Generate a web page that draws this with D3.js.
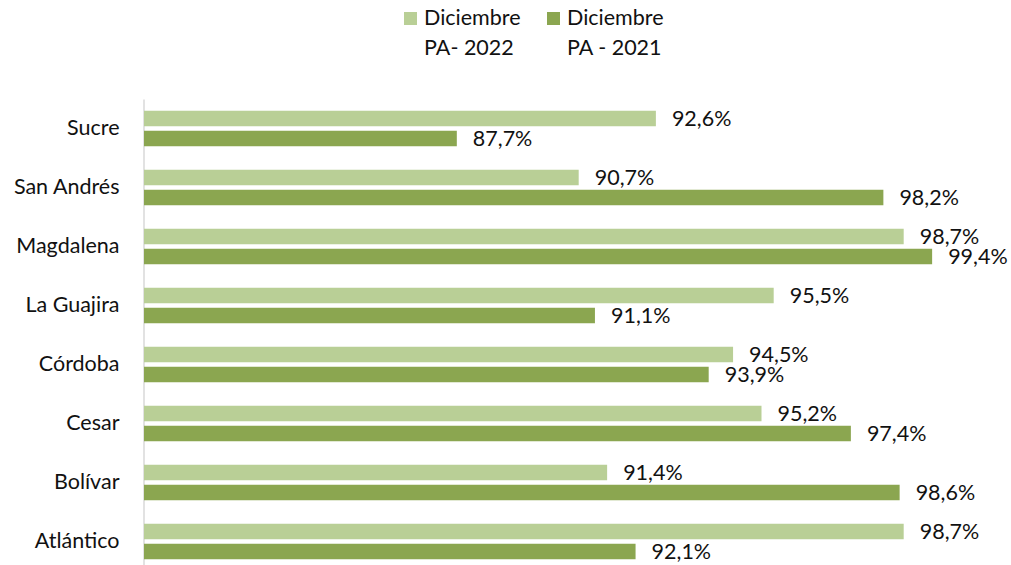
<!DOCTYPE html>
<html>
<head>
<meta charset="utf-8">
<script src="https://cdn.jsdelivr.net/npm/d3@7"></script>
<style>
  body { margin: 0; background: #fff; }
  text { font-family: Lato, "Open Sans", sans-serif; fill: #111; }
</style>
</head>
<body>
<div id="chart"></div>
<script>
const categories = ["Sucre", "San Andrés", "Magdalena", "La Guajira", "Córdoba", "Cesar", "Bolívar", "Atlántico"];
const pa2022 = [92.6, 90.7, 98.7, 95.5, 94.5, 95.2, 91.4, 98.7];
const pa2021 = [87.7, 98.2, 99.4, 91.1, 93.9, 97.4, 98.6, 92.1];
const seriesNames = [["Diciembre", "PA- 2022"], ["Diciembre", "PA - 2021"]];
const colors = ["#b9cf96", "#8ba650"];

let width = 1011;
let height = 565;
let fs = "21.5px";

let svg = d3.select("#chart").append("svg")
  .attr("width", width)
  .attr("height", height);

let x = d3.scaleLinear().domain([80, 100]).range([144, 956.5]);
let y = d3.scaleBand().domain(categories).range([99, 571]);
let sub = d3.scaleBand().domain([0, 1]).range([-17.75, 17.75]).paddingInner(0.225);

// category axis
let axis = svg.append("g")
  .attr("transform", "translate(143.5,0)")
  .call(d3.axisLeft(y).tickSize(0).tickSizeOuter(0).tickPadding(24));
axis.select(".domain").attr("stroke", "#d9d9d9").attr("stroke-width", 1.5);
axis.selectAll("text")
  .style("font-family", "Lato, 'Open Sans', sans-serif")
  .style("font-size", fs)
  .attr("fill", "#111");

let rows = [];
categories.forEach((c, i) => {
  rows.push({ cat: c, s: 0, v: pa2022[i] });
  rows.push({ cat: c, s: 1, v: pa2021[i] });
});

let barY = d => y(d.cat) + y.bandwidth() / 2 + sub(d.s);

svg.selectAll("rect.bar")
  .data(rows).enter()
  .append("rect")
  .attr("class", "bar")
  .attr("x", x(80))
  .attr("y", barY)
  .attr("width", d => x(d.v) - x(80))
  .attr("height", sub.bandwidth())
  .attr("fill", d => colors[d.s]);

svg.selectAll("text.lbl")
  .data(rows).enter()
  .append("text")
  .attr("class", "lbl")
  .attr("x", d => x(d.v) + 16)
  .attr("y", d => barY(d) + sub.bandwidth() / 2)
  .attr("dy", "0.36em")
  .style("font-size", fs)
  .text(d => d.v.toFixed(1).replace(".", ",") + "%");

// legend
let legendX = [404, 547];
seriesNames.forEach((n, i) => {
  let g = svg.append("g").attr("transform", "translate(" + legendX[i] + ",0)");
  g.append("rect").attr("x", 0).attr("y", 12).attr("width", 13).attr("height", 13).attr("fill", colors[i]);
  g.append("text").attr("x", 20).attr("y", 25).style("font-size", fs).text(n[0]);
  g.append("text").attr("x", 20).attr("y", 55).style("font-size", fs).text(n[1]);
});
</script>
</body>
</html>
